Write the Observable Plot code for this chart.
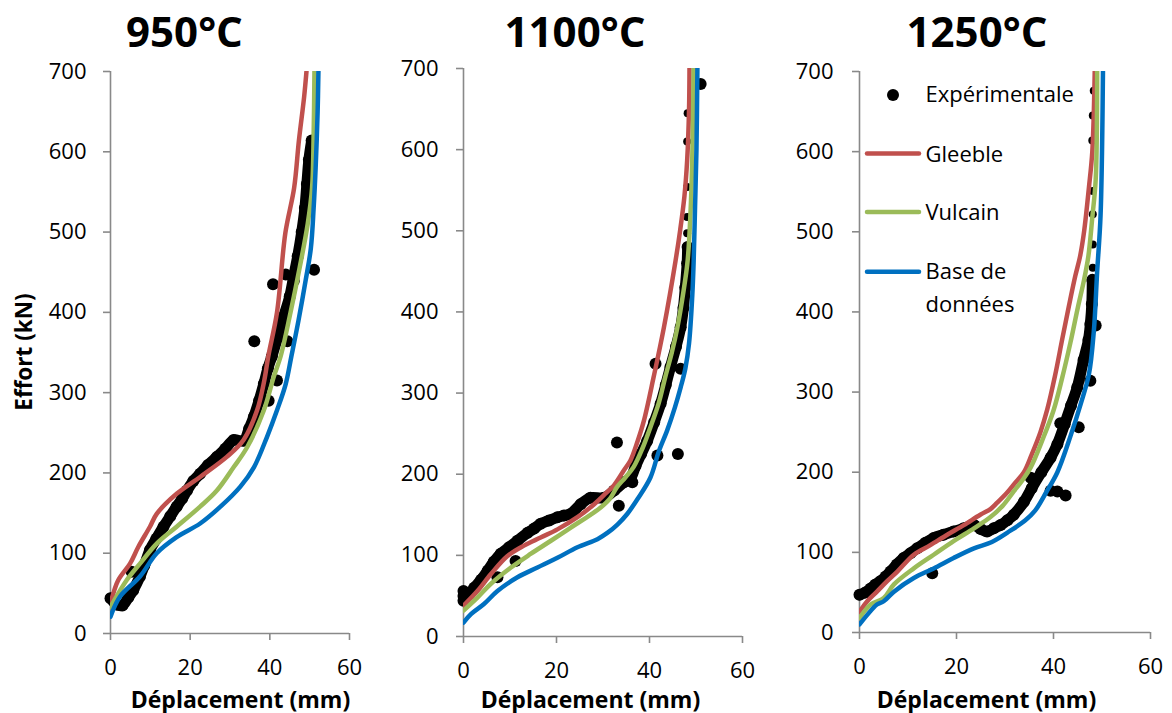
<!DOCTYPE html>
<html>
<head>
<meta charset="utf-8">
<script src="https://cdn.jsdelivr.net/npm/d3@7"></script>
<script src="https://cdn.jsdelivr.net/npm/@observablehq/plot@0.6"></script>
<style>
  html, body { margin: 0; padding: 0; background: #fff; }
  #root { position: relative; width: 1172px; height: 713px; overflow: hidden; background: #fff; font-family: "Open Sans", sans-serif; }
  #overlay { position: absolute; left: 0; top: 0; pointer-events: none; }
</style>
</head>
<body>
<div id="root"></div>
<script>
// ---------- tick labels / categories ----------
const xTicks = [0, 20, 40, 60];
const yTicks = [0, 100, 200, 300, 400, 500, 600, 700];
const panelTitles = ["950°C", "1100°C", "1250°C"];
const seriesNames = ["Expérimentale", "Gleeble", "Vulcain", "Base de données"];
const xTitle = "Déplacement (mm)";
const yTitle = "Effort (kN)";

// ---------- 950°C : [déplacement mm, effort kN] ----------
const gleeble950 = [[0,37],[1.9,66],[4.9,87],[7,108],[9.9,133],[11.6,149],[16.6,174],[22.5,195],[29.2,220],[33.4,241],[36.8,278],[38.6,315],[39.6,345],[41.8,400],[43.9,499],[46.1,555],[47.3,614],[48.6,668],[49.2,700]];
const vulcain950 = [[0,33],[4,66],[7.4,87],[11.6,112],[16.6,133],[22.5,158],[26.7,178],[30.9,207],[34.3,232],[38.5,278],[41,320],[42.7,345],[45.2,400],[47.5,456],[49.5,510],[50.6,555],[51,622],[51.2,700]];
const base950 = [[0,21],[2.4,46],[7.4,71],[11.6,100],[16.6,120],[22.5,137],[27.6,158],[32.6,183],[36,207],[39.3,245],[41.8,278],[44,311],[45.4,345],[47.2,390],[49,440],[50.3,480],[51,530],[51.5,580],[52,650],[52.2,700]];
const expBand950 = [[0,44],[1.5,36],[3,35],[4.5,45],[5.7,54],[7.4,71],[8.5,85],[9.9,104],[11.5,118],[13.3,133],[15,146],[16.6,158],[18,168],[19.2,178],[20.8,190],[22.5,199],[24.5,210],[26.7,220],[28.8,230],[30.9,241],[33.4,240],[34.8,255],[36,270],[37.3,290],[38.5,311],[39.5,330],[40.5,345],[42,370],[43.5,395],[45,420],[46,445],[47,470],[48,500],[48.8,530],[49.3,560],[49.8,590],[50.5,614]];
const expOut950 = [[5.3,77],[36.1,364],[40.8,435],[44,447],[46,439],[51.1,453],[39.7,290],[41.8,315],[44.4,364]];
const expSparse950 = [];

// ---------- 1100°C ----------
const gleeble1100 = [[0,38],[3,56],[5.9,77],[9.4,99],[13,112],[16.6,122],[20.2,132],[24.5,147],[28.1,163],[30.5,176],[32.3,186],[34.5,205],[35.9,217],[37.4,240],[38.8,266],[40.9,320],[43.1,381],[45.6,463],[46.6,501],[47.5,542],[48.1,587],[48.5,649],[48.6,700]];
const vulcain1100 = [[0,32],[3,48],[5.9,65],[10.2,85],[14.5,102],[18.8,118],[23,134],[27.3,150],[29.5,159],[31.5,170],[33,184],[34.8,196],[36.6,209],[38.5,232],[40.2,258],[42,288],[43.4,320],[44.8,350],[46,381],[47.3,425],[48.2,463],[48.8,520],[49.2,590],[49.5,700]];
const base1100 = [[0,17],[1.6,27.5],[4.4,40],[7.3,56],[11.6,73],[15.9,85],[20.2,97],[24.5,110],[28.8,120],[31,128],[33.1,138],[35.2,151],[37.5,170],[40.2,196],[42,228],[43.8,254],[45.5,283],[46.7,307],[47.7,330],[48.5,361],[49.2,420],[49.5,463],[49.8,530],[50.1,600],[50.3,700]];
const expBand1100 = [[0,50],[1.2,52],[2.3,60],[3.8,70],[5.2,81],[6.5,92],[8,102],[9.8,110],[11.6,118],[13.8,128],[15.2,133],[16.6,139],[18.4,143],[20.2,147],[21.6,149],[23,151],[25.2,163],[27.3,171],[30.2,171],[32.4,180],[34.5,190],[35.9,195],[37,210],[38.2,225],[39.5,241],[41,264],[42.4,287],[43.5,310],[44.5,332],[45.7,357],[46.7,381],[47.3,405],[47.7,430],[48.1,460],[48.2,480]];
const expOut1100 = [[0,44],[0,56],[7.3,73],[11.2,93],[33,239],[33.4,161],[36.3,190],[41.3,336],[41.7,223],[46.1,225],[46.7,330]];
const expSparse1100 = [[48.1,497],[48.1,517],[48.1,554],[48.1,610],[48.2,645]];
const expBig1100 = [[51,681]];

// ---------- 1250°C ----------
const gleeble1250 = [[0,26],[1.6,39],[3.6,51],[5.7,64],[7.8,76],[11.2,97],[14.6,109],[18.1,122],[21.5,134],[24.9,147],[27,154],[28.4,162],[30.5,175],[32,186],[33.9,200],[35.5,222],[37.3,250],[38.7,278],[40.3,320],[41.8,366],[43.2,408],[44.5,445],[45.5,470],[46.3,500],[47.3,555],[48,600],[48.5,700]];
const vulcain1250 = [[0,18],[2.3,35],[5,43],[7.1,60],[11.2,80],[15.3,97],[19.4,114],[23.6,130],[27,144],[29.5,158],[31.8,176],[33.6,190],[35.3,206],[37.7,240],[40,277],[41.8,318],[43.5,362],[45,405],[46.3,440],[47.2,470],[48,518],[48.7,565],[49,700]];
const base1250 = [[0,10],[1.6,22],[3.6,35],[5,39],[7.1,51],[11.2,68],[15.3,80],[19.4,93],[23.6,105],[27.3,113],[31.1,127],[34.2,140],[36.2,152],[38.5,175],[40.8,200],[43.5,245],[45.6,285],[47.3,322],[48.3,375],[49,450],[49.7,520],[50.2,700]];
const expBand1250 = [[0,47],[1.2,50],[2.3,55],[3.3,60],[4.3,64],[5.4,70],[6.4,76],[7.7,85],[9.1,93],[10.5,99],[11.9,105],[13.6,112],[15.3,118],[17.3,122],[19.4,126],[21.5,130],[23.6,134],[25,129],[26.3,126],[27.7,130],[29.1,134],[30.5,140],[31.8,147],[33.9,163],[35.5,180],[37.5,200],[39.4,218],[40.8,235],[42.3,260],[43.6,283],[44.9,306],[46.2,340],[47.2,365],[47.6,385],[47.9,410],[48,440]];
const expOut1250 = [[15,74],[35.3,193],[39.4,177],[41.4,261],[40.8,176],[42.5,171],[45.2,256],[47.6,314],[48.7,383]];
const expSparse1250 = [[48.1,455],[48.1,484],[48.1,522],[48.1,551],[48,614],[48.1,645],[48.3,676]];

// ---------- colours ----------
const colGleeble = "#C0504D";
const colVulcain = "#9BBB59";
const colBase = "#0070C0";
const colAxis = "#898989";

const root = document.getElementById("root");
const X = d => d[0], Y = d => d[1];

function panel(cfg) {
  const mL = 80, mR = 30, mT = 12, mB = 60;
  const fw = cfg.fx1 - cfg.fx0, fh = cfg.fy1 - cfg.fy0;
  const chart = Plot.plot({
    width: mL + fw + mR,
    height: mT + fh + mB,
    marginLeft: mL, marginRight: mR, marginTop: mT, marginBottom: mB,
    x: {domain: [0, 60]},
    y: {domain: [0, 700]},
    style: {fontFamily: "Open Sans", fontSize: "22px", background: "transparent", overflow: "visible", color: "black"},
    marks: [
      Plot.ruleX([0], {stroke: colAxis, strokeWidth: 1.6}),
      Plot.ruleY([0], {stroke: colAxis, strokeWidth: 1.6}),
      Plot.axisY(yTicks, {anchor: "left", tickSize: 7, tickPadding: cfg.yPad, stroke: colAxis, fill: "black", fontSize: 22, label: null, strokeWidth: 1.6}),
      Plot.axisX(xTicks, {anchor: "bottom", tickSize: 7, tickPadding: 19, stroke: colAxis, fill: "black", fontSize: 22, label: null, strokeWidth: 1.6}),
      Plot.line(cfg.band, {x: X, y: Y, stroke: "black", strokeWidth: 11, strokeLinejoin: "round", strokeLinecap: "round", curve: "catmull-rom"}),
      Plot.dot(cfg.band, {x: X, y: Y, r: 6, fill: "black"}),
      Plot.dot(cfg.out, {x: X, y: Y, r: 6, fill: "black"}),
      Plot.dot(cfg.sparse, {x: X, y: Y, r: 4, fill: "black"}),
      Plot.dot(cfg.big || [], {x: X, y: Y, r: 6, fill: "black"}),
      Plot.line(cfg.gleeble, {x: X, y: Y, stroke: colGleeble, strokeWidth: 4.5, clip: true, curve: "catmull-rom"}),
      Plot.line(cfg.vulcain, {x: X, y: Y, stroke: colVulcain, strokeWidth: 4.5, clip: true, curve: "catmull-rom"}),
      Plot.line(cfg.base, {x: X, y: Y, stroke: colBase, strokeWidth: 4.5, clip: true, curve: "catmull-rom"})
    ]
  });
  chart.style.position = "absolute";
  chart.style.left = (cfg.fx0 - mL) + "px";
  chart.style.top = (cfg.fy0 - mT) + "px";
  chart.style.maxWidth = "none";
  root.appendChild(chart);
}

panel({fx0: 110, fx1: 349, fy0: 71, fy1: 633, yPad: 17, gleeble: gleeble950, vulcain: vulcain950, base: base950, band: expBand950, out: expOut950, sparse: expSparse950});
panel({fx0: 463, fx1: 742, fy0: 68, fy1: 636, yPad: 18, gleeble: gleeble1100, vulcain: vulcain1100, base: base1100, band: expBand1100, out: expOut1100, sparse: expSparse1100, big: expBig1100});
panel({fx0: 859, fx1: 1150, fy0: 71, fy1: 632, yPad: 19, gleeble: gleeble1250, vulcain: vulcain1250, base: base1250, band: expBand1250, out: expOut1250, sparse: expSparse1250});

// ---------- overlay texts & legend ----------
const ns = "http://www.w3.org/2000/svg";
const ov = document.createElementNS(ns, "svg");
ov.setAttribute("id", "overlay");
ov.setAttribute("width", 1172);
ov.setAttribute("height", 713);
root.appendChild(ov);
function txt(s, x, y, size, weight, anchor, rot) {
  const t = document.createElementNS(ns, "text");
  t.textContent = s;
  t.setAttribute("x", x); t.setAttribute("y", y);
  t.setAttribute("font-family", "Open Sans");
  t.setAttribute("font-size", size);
  t.setAttribute("font-weight", weight);
  t.setAttribute("text-anchor", anchor);
  t.setAttribute("fill", "black");
  if (rot) t.setAttribute("transform", `rotate(${rot} ${x} ${y})`);
  ov.appendChild(t);
}
const titleX = [184.5, 575, 977];
panelTitles.forEach((s, i) => txt(s, titleX[i], 46.5, 42, "bold", "middle"));
const xtX = [240.5, 590.5, 986.5];
xtX.forEach(x => txt(xTitle, x, 707.5, 23, "bold", "middle"));
txt(yTitle, 32, 352, 22.5, "bold", "middle", -90);

// legend
const c = document.createElementNS(ns, "circle");
c.setAttribute("cx", 893); c.setAttribute("cy", 95); c.setAttribute("r", 6); c.setAttribute("fill", "black");
ov.appendChild(c);
txt(seriesNames[0], 925.5, 101.7, 22, "normal", "start");
function lline(y, col) {
  const l = document.createElementNS(ns, "line");
  l.setAttribute("x1", 867); l.setAttribute("x2", 919);
  l.setAttribute("y1", y); l.setAttribute("y2", y);
  l.setAttribute("stroke", col); l.setAttribute("stroke-width", 4.5);
  l.setAttribute("stroke-linecap", "round");
  ov.appendChild(l);
}
lline(153.5, colGleeble); txt(seriesNames[1], 925.5, 161.7, 22, "normal", "start");
lline(212, colVulcain); txt(seriesNames[2], 925.5, 220, 22, "normal", "start");
lline(271.7, colBase);
const parts = seriesNames[3].split(" ");
txt(parts[0] + " " + parts[1], 925.5, 279.3, 22, "normal", "start");
txt(parts[2], 925.5, 311.7, 22, "normal", "start");
</script>
</body>
</html>
